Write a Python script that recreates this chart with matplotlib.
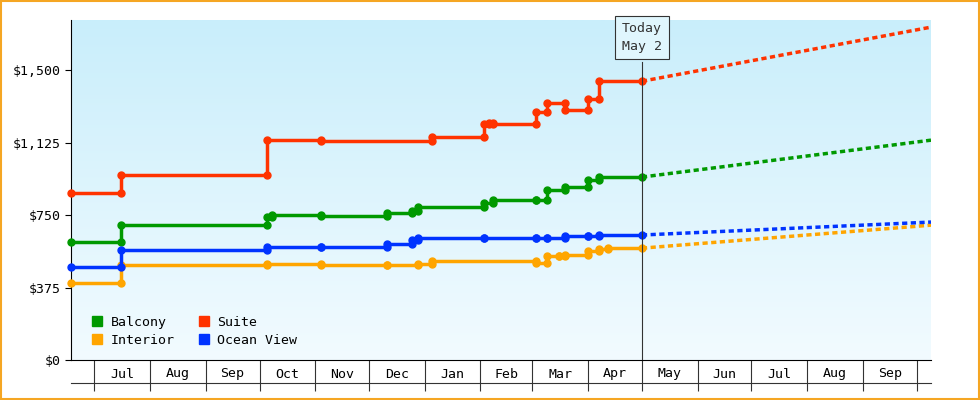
import matplotlib
matplotlib.use("Agg")
import matplotlib.pyplot as plt
import matplotlib.dates as mdates
import numpy as np
from datetime import date
from matplotlib.colors import LinearSegmentedColormap

series_names = ["Balcony", "Interior", "Suite", "Ocean View"]
colors = {"Balcony": "#009900", "Interior": "#ffa500", "Suite": "#ff3300", "Ocean View": "#0033ff"}

start_date = date(2023, 6, 18)
today = date(2024, 5, 1)
end_date = date(2024, 10, 9)

suite_dates = [date(2023,6,18), date(2023,7,16), date(2023,10,5), date(2023,11,4), date(2024,1,5), date(2024,2,3), date(2024,2,6), date(2024,2,8), date(2024,3,3), date(2024,3,9), date(2024,3,19), date(2024,4,1), date(2024,4,7)]
suite_vals = [864, 957, 1138, 1133, 1154, 1221, 1225, 1221, 1283, 1330, 1293, 1350, 1443]
balcony_dates = [date(2023,6,18), date(2023,7,16), date(2023,10,5), date(2023,10,8), date(2023,11,4), date(2023,12,11), date(2023,12,25), date(2023,12,28), date(2024,2,3), date(2024,2,8), date(2024,3,3), date(2024,3,9), date(2024,3,19), date(2024,4,1), date(2024,4,7)]
balcony_vals = [610, 698, 740, 750, 745, 760, 770, 791, 812, 828, 828, 880, 895, 931, 947]
ocean_dates = [date(2023,6,18), date(2023,7,16), date(2023,10,5), date(2023,11,4), date(2023,12,11), date(2023,12,25), date(2023,12,28), date(2024,2,3), date(2024,3,3), date(2024,3,9), date(2024,3,19), date(2024,4,1), date(2024,4,7)]
ocean_vals = [481, 569, 585, 585, 600, 621, 631, 631, 631, 631, 641, 641, 647]
interior_dates = [date(2023,6,18), date(2023,7,16), date(2023,10,5), date(2023,11,4), date(2023,12,11), date(2023,12,28), date(2024,1,5), date(2024,3,3), date(2024,3,9), date(2024,3,16), date(2024,3,19), date(2024,4,1), date(2024,4,7), date(2024,4,12)]
interior_vals = [398, 491, 497, 494, 494, 497, 512, 502, 538, 540, 543, 564, 574, 579]

forecast_end = {"Balcony": 1138, "Interior": 698, "Suite": 1723, "Ocean View": 714}
data = {"Balcony": (balcony_dates, balcony_vals), "Interior": (interior_dates, interior_vals),
        "Suite": (suite_dates, suite_vals), "Ocean View": (ocean_dates, ocean_vals)}

yticks = [0, 375, 750, 1125, 1500]
month_starts = [date(2023,m,1) for m in range(7,13)] + [date(2024,m,1) for m in range(1,11)]
labels = ["Jul","Aug","Sep","Oct","Nov","Dec","Jan","Feb","Mar","Apr","May","Jun","Jul","Aug","Sep"]

fig = plt.figure(figsize=(9.8, 4.0), dpi=100)
fig.patch.set_facecolor("white")
fig.patches.append(plt.Rectangle((0.001, 0.002), 0.998, 0.996, transform=fig.transFigure,
                                 fill=False, edgecolor="#f5a623", linewidth=1.5))
ax = fig.add_axes([71/980, 40/400, 860/980, 340/400])
x0, x1 = mdates.date2num(start_date), mdates.date2num(end_date)
ymax = 1760
grad = np.linspace(0, 1, 256).reshape(-1, 1)
cmap = LinearSegmentedColormap.from_list("g", ["#f2fbff", "#c9eefb"])
ax.imshow(grad, extent=[x0, x1, 0, ymax], origin="lower", aspect="auto", cmap=cmap, zorder=0)
ax.set_xlim(x0, x1)
ax.set_ylim(0, ymax)

mono = "DejaVu Sans Mono"
for name in series_names:
    ds, vs = data[name]
    xs, ys = [ds[0]], [vs[0]]
    for i in range(1, len(ds)):
        xs += [ds[i], ds[i]]
        ys += [vs[i-1], vs[i]]
    xs.append(today); ys.append(vs[-1])
    c = colors[name]
    ax.plot(xs, ys, color=c, lw=2.5, marker="o", ms=5, zorder=3, clip_on=False)
    ax.plot([today, end_date], [vs[-1], forecast_end[name]], color=c, lw=2.5, ls=(0, (1.5, 1)), zorder=3)
    ax.plot([], [], color=c, marker="s", ls="none", ms=7, label=name)

ax.axvline(mdates.date2num(today), ymin=0, ymax=(360-62)/340, color="#333333", lw=0.8, zorder=4)
ax.text(mdates.date2num(today), ymax - 12, "Today\nMay 2", ha="center", va="top", fontfamily=mono,
        fontsize=9.5, linespacing=1.45, zorder=5, color="#333333",
        bbox=dict(boxstyle="square,pad=0.5", fc="#e0f6fd", ec="#333333", lw=0.8))

ax.set_yticks(yticks)
ax.set_yticklabels([f"${v:,}" for v in yticks], fontfamily=mono, fontsize=9.5)
ax.set_xticks([mdates.date2num(d) for d in month_starts])
ax.set_xticklabels([])
ax.tick_params(axis="x", length=22, width=0.8, color="#333333")
ax.tick_params(axis="y", length=4)
for i, lab in enumerate(labels):
    mid = (mdates.date2num(month_starts[i]) + mdates.date2num(month_starts[i+1])) / 2
    ax.text(mid, -14/340*ymax, lab, ha="center", va="center", fontfamily=mono, fontsize=9.5, clip_on=False)
ax.plot([0, 1], [-23/340, -23/340], transform=ax.transAxes, color="#333333", lw=0.8, clip_on=False)
for s in ["top", "right"]:
    ax.spines[s].set_visible(False)

ax.legend(loc="lower left", ncol=2, frameon=False, prop={"family": mono, "size": 9.5},
          handletextpad=0.0, columnspacing=1.2, borderaxespad=0.6, labelspacing=0.4)
fig.savefig("out.png", dpi=100)
